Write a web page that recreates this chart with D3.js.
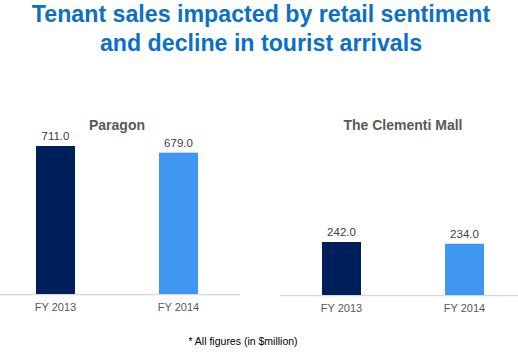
<!DOCTYPE html>
<html><head><meta charset="utf-8">
<script src="https://cdn.jsdelivr.net/npm/d3@7"></script>
<style>body{margin:0;background:#fff}svg{display:block}text{font-family:"Liberation Sans",Arial,sans-serif}</style>
</head><body>
<script>
const titleLines = ["Tenant sales impacted by retail sentiment", "and decline in tourist arrivals"];
const categories = ["FY 2013", "FY 2014"];
const paragonValues = [711.0, 679.0];
const clementiValues = [242.0, 234.0];
const panelTitles = ["Paragon", "The Clementi Mall"];
const footnote = "* All figures (in $million)";
const colors = ["#00205C", "#3F97F2"];

const svg = d3.select("body").append("svg").attr("width", 518).attr("height", 354);

svg.selectAll("text.title").data(titleLines).join("text")
  .attr("class", "title")
  .attr("x", 261).attr("y", (d, i) => 22 + i * 29)
  .attr("text-anchor", "middle")
  .attr("font-size", 23.2).attr("font-weight", "bold").attr("fill", "#0A70C6")
  .text(d => d);

function panel(cfg) {
  const g = svg.append("g");
  const x = d3.scaleBand().domain(categories).range([cfg.x0, cfg.x1]).paddingInner(0.683).paddingOuter(0.3);
  const y = d3.scaleLinear().domain([0, 800]).range([cfg.base, cfg.base - cfg.h800]);
  g.append("line").attr("x1", cfg.lx0).attr("x2", cfg.lx1).attr("y1", cfg.base + 0.5).attr("y2", cfg.base + 0.5)
    .attr("stroke", "#d9d9d9").attr("stroke-width", 1.5);
  g.selectAll("rect").data(cfg.values).join("rect")
    .attr("x", (d, i) => x(categories[i])).attr("width", x.bandwidth())
    .attr("y", d => y(d)).attr("height", d => y(0) - y(d))
    .attr("fill", (d, i) => colors[i]);
  g.selectAll("text.val").data(cfg.values).join("text").attr("class", "val")
    .attr("x", (d, i) => x(categories[i]) + x.bandwidth() / 2).attr("y", d => y(d) - 6)
    .attr("text-anchor", "middle").attr("font-size", 11.5).attr("fill", "#404040")
    .text(d => d.toFixed(1));
  g.selectAll("text.cat").data(categories).join("text").attr("class", "cat")
    .attr("x", d => x(d) + x.bandwidth() / 2).attr("y", cfg.base + 17)
    .attr("text-anchor", "middle").attr("font-size", 11).attr("fill", "#595959")
    .text(d => d);
  g.append("text").attr("x", cfg.tx).attr("y", 130).attr("text-anchor", "middle")
    .attr("font-size", 14).attr("font-weight", "bold").attr("fill", "#595959").text(cfg.title);
}

panel({x0: -0.9, x1: 234.9, lx0: 0, lx1: 240, base: 294, h800: 800 * 148 / 711, values: paragonValues, title: panelTitles[0], tx: 117});
panel({x0: 285.1, x1: 520.9, lx0: 280, lx1: 518, base: 295, h800: 800 * 53 / 242, values: clementiValues, title: panelTitles[1], tx: 403});

svg.append("text").attr("x", 243).attr("y", 345).attr("text-anchor", "middle")
  .attr("font-size", 10.5).attr("fill", "#000").text(footnote);
</script>
</body></html>
